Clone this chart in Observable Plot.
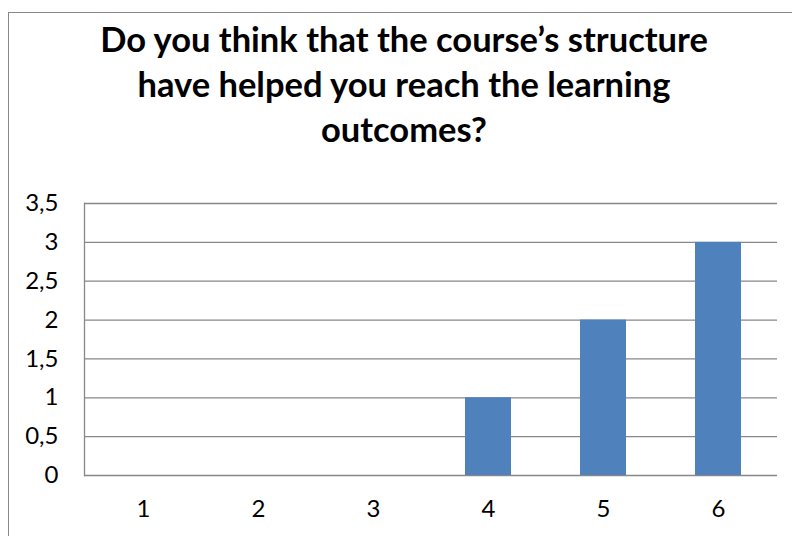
<!DOCTYPE html>
<html>
<head>
<meta charset="utf-8">
<script src="https://cdn.jsdelivr.net/npm/d3@7"></script>
<script src="https://cdn.jsdelivr.net/npm/@observablehq/plot@0.6"></script>
<style>
  html, body { margin: 0; padding: 0; background: #fff; width: 792px; height: 536px; overflow: hidden; }
  #frame { position: absolute; left: 8px; top: 12px; width: 800px; height: 600px;
           border-left: 1.5px solid #888; border-top: 1.5px solid #888; box-sizing: border-box; }
  #title { position: absolute; left: 8px; top: 16px; width: 792px; text-align: center;
           font-family: Lato, "Open Sans", sans-serif; font-weight: bold; font-size: 34.5px;
           line-height: 45px; color: #000; }
  #chart { position: absolute; left: 0; top: 170px; }
  #chart svg text { font-size: 24px !important; font-family: Lato, "Open Sans", sans-serif; }
</style>
</head>
<body>
<div id="frame"></div>
<div id="title">Do you think that the course’s structure<br>have helped you reach the learning<br>outcomes?</div>
<div id="chart"></div>
<script>
const categories = ["1", "2", "3", "4", "5", "6"];
const values = [0, 0, 0, 1, 2, 3];
const yTicks = [0, 0.5, 1, 1.5, 2, 2.5, 3, 3.5];

const data = categories.map((c, i) => ({ cat: c, value: values[i] }));
const fmt = d => String(d).replace(".", ",");

const plot = Plot.plot({
  width: 792,
  height: 366,
  marginLeft: 84,
  marginRight: 15,
  marginTop: 33,
  marginBottom: 61,
  style: { fontFamily: "Lato, 'Open Sans', sans-serif", fontSize: "24px", color: "#000", background: "transparent" },
  x: { domain: categories, paddingInner: 0.6, paddingOuter: 0.3, label: null },
  y: { domain: [0, 3.5], label: null },
  marks: [
    Plot.ruleY(yTicks, { stroke: "#888", strokeWidth: 1.3 }),
    Plot.frame({ anchor: "left", stroke: "#888", strokeWidth: 1.3 }),
    Plot.barY(data, { x: "cat", y: "value", fill: "#4F81BD" }),
    Plot.axisY(yTicks, { tickSize: 0, tickPadding: 26, tickFormat: fmt, fill: "#000", fontSize: 24 }),
    Plot.axisX({ tickSize: 0, tickPadding: 24, fill: "#000", fontSize: 24 })
  ]
});
document.getElementById("chart").appendChild(plot);
</script>
</body>
</html>
